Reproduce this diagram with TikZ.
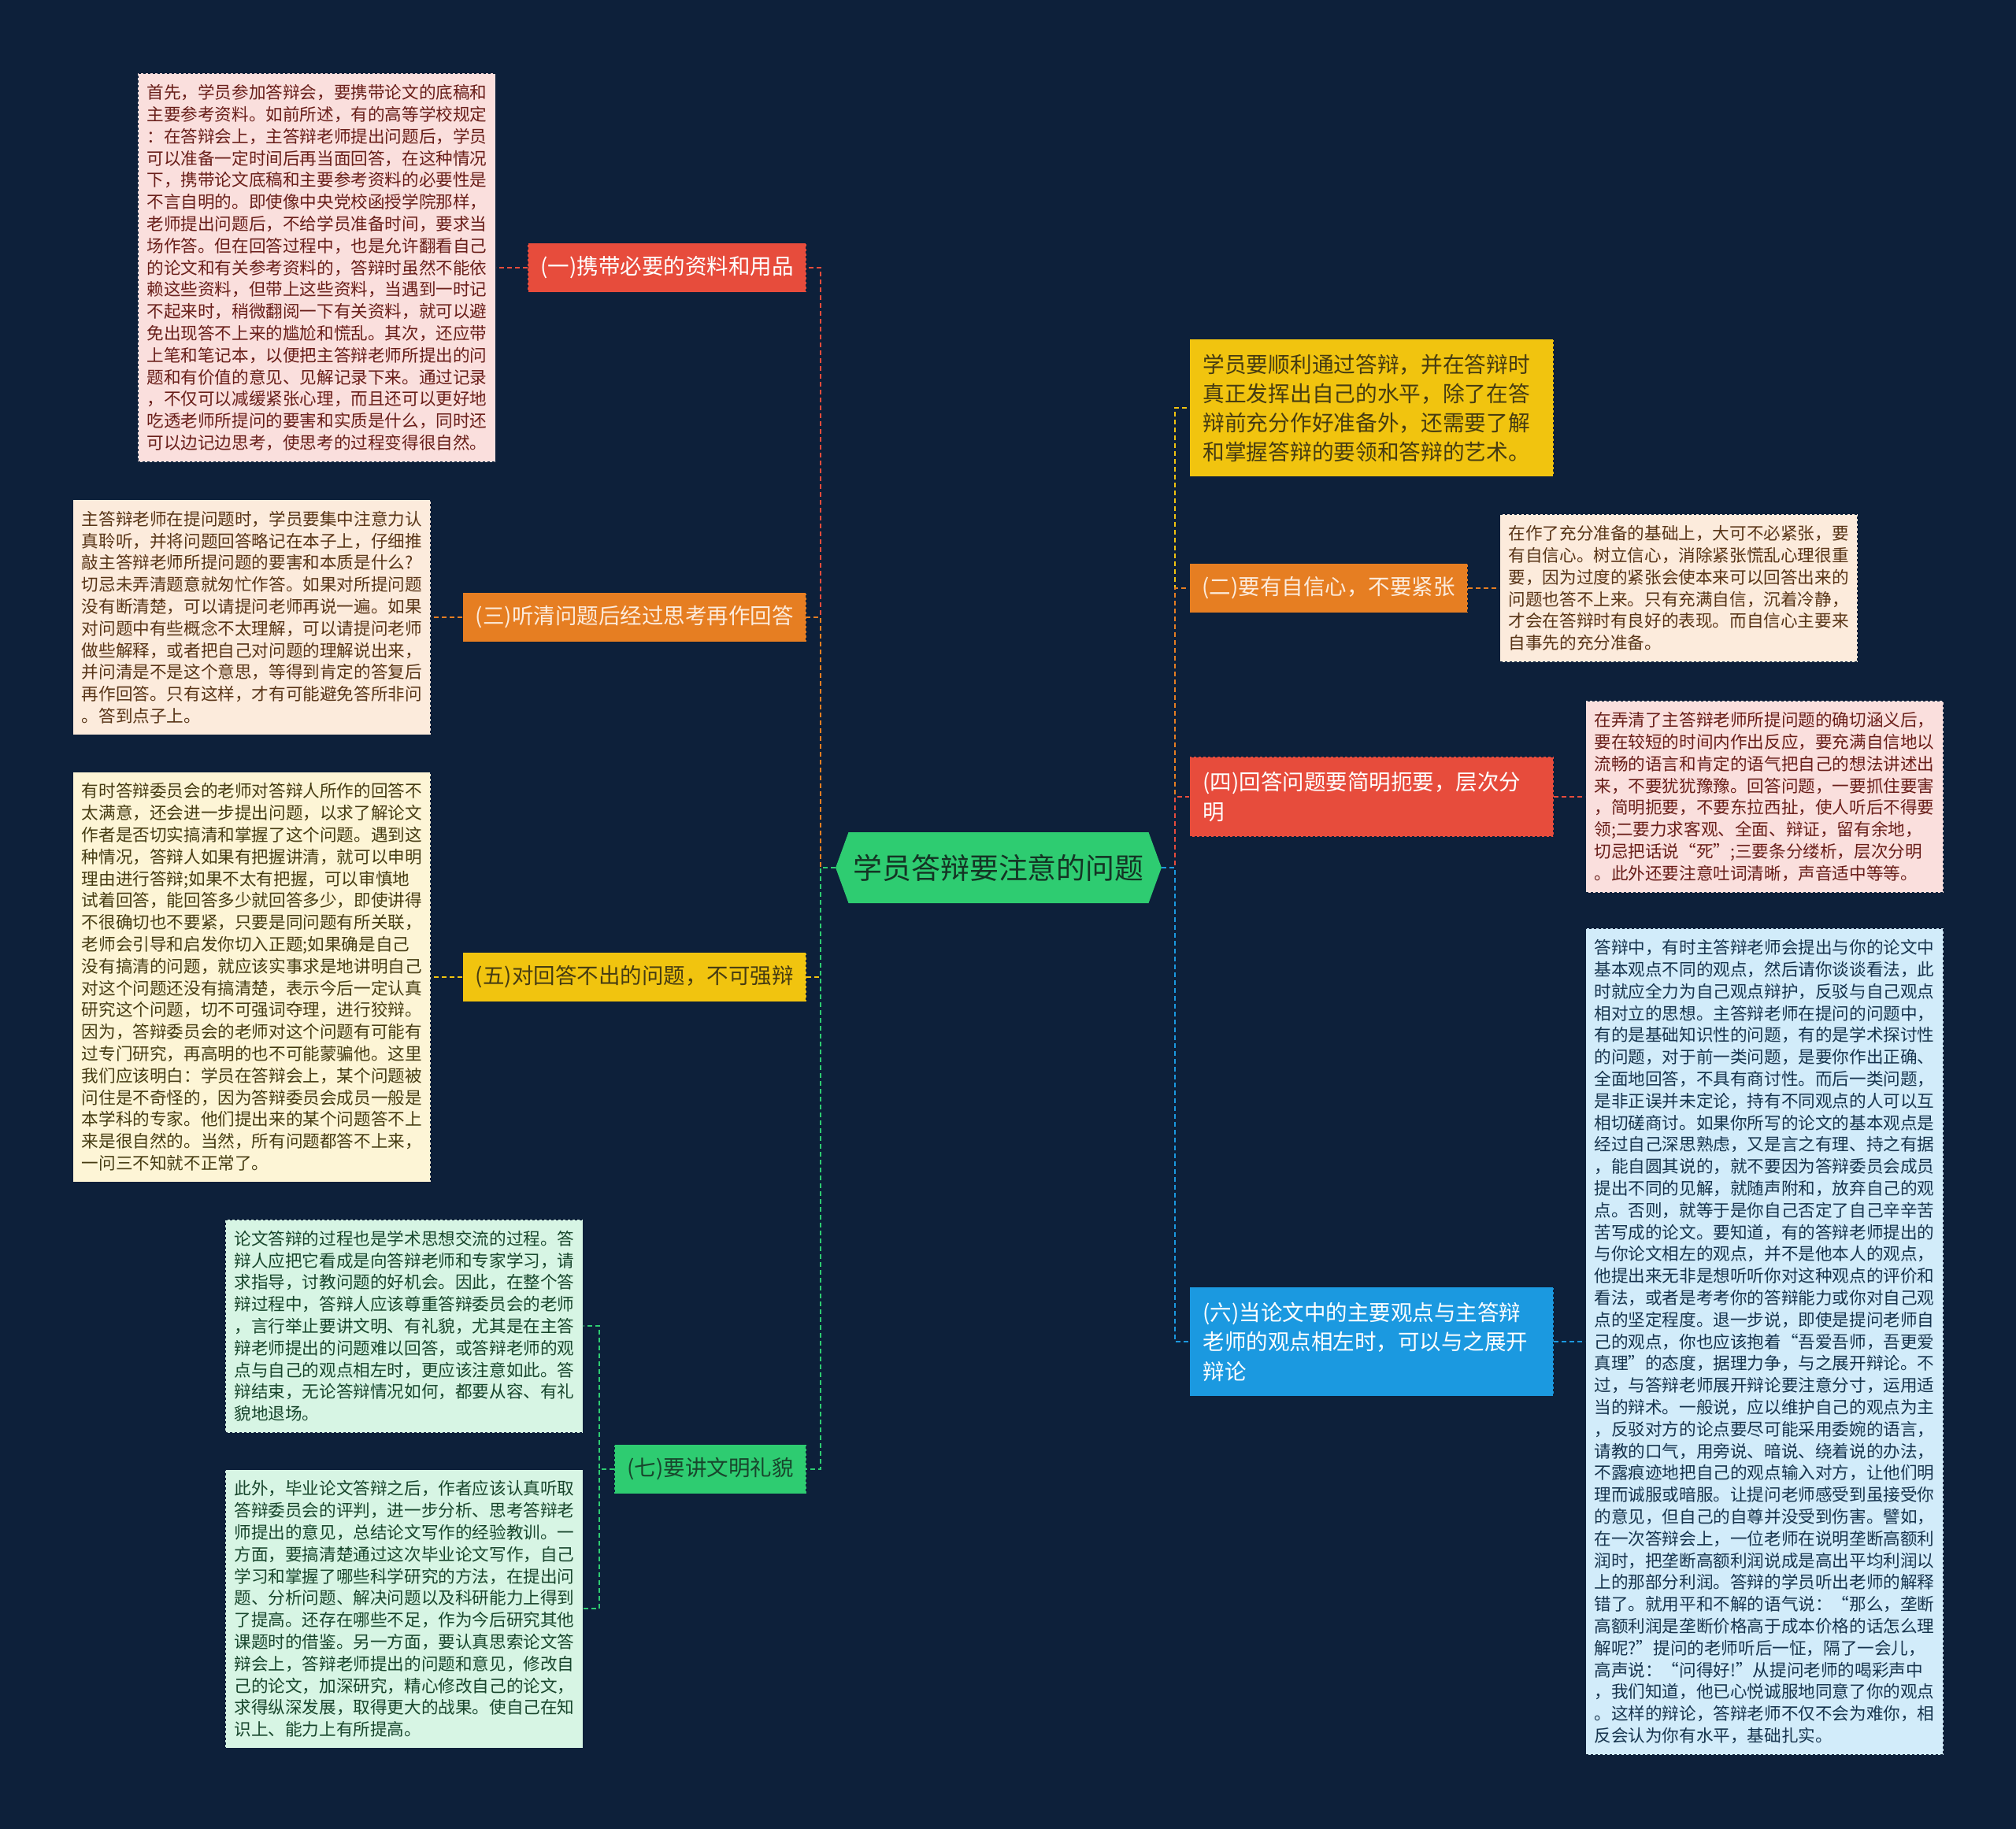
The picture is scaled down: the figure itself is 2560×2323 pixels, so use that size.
\documentclass[tikz,border=0pt]{standalone}
\usepackage{fontspec}
\usepackage{tikz}
\usetikzlibrary{positioning,shapes.symbols}
\newfontfamily\cjk{Noto Sans CJK SC}
\definecolor{nightbg}{RGB}{13,32,58}
\definecolor{rootgreen}{RGB}{46,204,113}
\definecolor{rootink}{RGB}{20,52,36}
\definecolor{deepred}{RGB}{231,76,60}
\definecolor{deeporange}{RGB}{230,126,34}
\definecolor{deepyellow}{RGB}{241,196,15}
\definecolor{deepgreen}{RGB}{46,204,113}
\definecolor{deepblue}{RGB}{27,153,224}
\definecolor{softred}{RGB}{250,223,221}
\definecolor{softorange}{RGB}{252,235,220}
\definecolor{softyellow}{RGB}{253,245,214}
\definecolor{softgreen}{RGB}{215,245,228}
\definecolor{softblue}{RGB}{210,236,250}
\definecolor{inkred}{RGB}{105,30,25}
\definecolor{inkbrown}{RGB}{88,52,22}
\definecolor{inkolive}{RGB}{70,60,18}
\definecolor{inkgreen}{RGB}{24,70,44}
\definecolor{inkblue}{RGB}{22,52,78}

\begin{document}
\begin{tikzpicture}[x=1pt,y=-1pt,node distance=40pt]
\tikzstyle{rootbox}=[signal,signal to=west and east,signal pointer angle=140,fill=rootgreen,text=rootink,minimum height=90pt,inner xsep=6pt,font=\cjk\fontsize{36.9}{40}\selectfont]
\tikzstyle{branch}=[draw=nightbg,dashed,line width=1pt,inner xsep=16pt,inner ysep=17pt,font=\cjk\fontsize{27.5}{37.5}\selectfont]
\tikzstyle{widebranch}=[branch,text width=428pt,align=left,inner xsep=17pt,inner ysep=19pt]
\tikzstyle{detail}=[draw=nightbg,dashed,line width=1pt,text width=432pt,align=left,inner xsep=11pt,inner ysep=14pt,font=\cjk\fontsize{21.6}{27.8}\selectfont]
\tikzstyle{link}=[line width=2pt,dash pattern=on 6pt off 4pt]

\useasboundingbox (0,0) rectangle (2560,2323);
\fill[nightbg] (0,0) rectangle (2560,2323);

\node[rootbox] (root) at (1268,1102) {学员答辩要注意的问题};
\coordinate (lj) at (1042,1102);
\coordinate (rj) at (1492,1102);

\node[branch,anchor=east,fill=deepred,text=white] (b1) at (1024,340) {(一)携带必要的资料和用品};
\node[branch,anchor=east,fill=deeporange,text=softorange] (b3) at (1024,784) {(三)听清问题后经过思考再作回答};
\node[branch,anchor=east,fill=deepyellow,text=inkolive] (b5) at (1024,1241) {(五)对回答不出的问题，不可强辩};
\node[branch,anchor=east,fill=deepgreen,text=inkgreen] (b7) at (1024,1866) {(七)要讲文明礼貌};

\node[widebranch,anchor=west,fill=deepyellow,text=inkolive,font=\cjk\fontsize{27.7}{37}\selectfont] (intro) at (1510,518) {学员要顺利通过答辩，并在答辩时\\真正发挥出自己的水平，除了在答\\辩前充分作好准备外，还需要了解\\和掌握答辩的要领和答辩的艺术。};
\node[branch,anchor=west,fill=deeporange,text=softorange] (b2) at (1510,747) {(二)要有自信心，不要紧张};
\node[widebranch,anchor=west,fill=deepred,text=white] (b4) at (1510,1012) {(四)回答问题要简明扼要，层次分\\明};
\node[widebranch,anchor=west,fill=deepblue,text=white] (b6) at (1510,1704) {(六)当论文中的主要观点与主答辩\\老师的观点相左时，可以与之展开\\辩论};

\node[detail,left=of b1,fill=softred,text=inkred] (d1) {首先，学员参加答辩会，要携带论文的底稿和\\主要参考资料。如前所述，有的高等学校规定\\：在答辩会上，主答辩老师提出问题后，学员\\可以准备一定时间后再当面回答，在这种情况\\下，携带论文底稿和主要参考资料的必要性是\\不言自明的。即使像中央党校函授学院那样，\\老师提出问题后，不给学员准备时间，要求当\\场作答。但在回答过程中，也是允许翻看自己\\的论文和有关参考资料的，答辩时虽然不能依\\赖这些资料，但带上这些资料，当遇到一时记\\不起来时，稍微翻阅一下有关资料，就可以避\\免出现答不上来的尴尬和慌乱。其次，还应带\\上笔和笔记本，以便把主答辩老师所提出的问\\题和有价值的意见、见解记录下来。通过记录\\，不仅可以减缓紧张心理，而且还可以更好地\\吃透老师所提问的要害和实质是什么，同时还\\可以边记边思考，使思考的过程变得很自然。};
\node[detail,left=of b3,fill=softorange,text=inkbrown] (d3) {主答辩老师在提问题时，学员要集中注意力认\\真聆听，并将问题回答略记在本子上，仔细推\\敲主答辩老师所提问题的要害和本质是什么?\\切忌未弄清题意就匆忙作答。如果对所提问题\\没有断清楚，可以请提问老师再说一遍。如果\\对问题中有些概念不太理解，可以请提问老师\\做些解释，或者把自己对问题的理解说出来，\\并问清是不是这个意思，等得到肯定的答复后\\再作回答。只有这样，才有可能避免答所非问\\。答到点子上。};
\node[detail,left=of b5,fill=softyellow,text=inkolive] (d5) {有时答辩委员会的老师对答辩人所作的回答不\\太满意，还会进一步提出问题，以求了解论文\\作者是否切实搞清和掌握了这个问题。遇到这\\种情况，答辩人如果有把握讲清，就可以申明\\理由进行答辩;如果不太有把握，可以审慎地\\试着回答，能回答多少就回答多少，即使讲得\\不很确切也不要紧，只要是同问题有所关联，\\老师会引导和启发你切入正题;如果确是自己\\没有搞清的问题，就应该实事求是地讲明自己\\对这个问题还没有搞清楚，表示今后一定认真\\研究这个问题，切不可强词夺理，进行狡辩。\\因为，答辩委员会的老师对这个问题有可能有\\过专门研究，再高明的也不可能蒙骗他。这里\\我们应该明白：学员在答辩会上，某个问题被\\问住是不奇怪的，因为答辩委员会成员一般是\\本学科的专家。他们提出来的某个问题答不上\\来是很自然的。当然，所有问题都答不上来，\\一问三不知就不正常了。};
\node[detail,anchor=south east,fill=softgreen,text=inkgreen] (d7a) at ([shift={(-39pt,46pt)}]b7.west) {论文答辩的过程也是学术思想交流的过程。答\\辩人应把它看成是向答辩老师和专家学习，请\\求指导，讨教问题的好机会。因此，在整个答\\辩过程中，答辩人应该尊重答辩委员会的老师\\，言行举止要讲文明、有礼貌，尤其是在主答\\辩老师提出的问题难以回答，或答辩老师的观\\点与自己的观点相左时，更应该注意如此。答\\辩结束，无论答辩情况如何，都要从容、有礼\\貌地退场。};
\node[detail,anchor=north east,fill=softgreen,text=inkgreen] (d7b) at ([xshift=-39pt]b7.west) {此外，毕业论文答辩之后，作者应该认真听取\\答辩委员会的评判，进一步分析、思考答辩老\\师提出的意见，总结论文写作的经验教训。一\\方面，要搞清楚通过这次毕业论文写作，自己\\学习和掌握了哪些科学研究的方法，在提出问\\题、分析问题、解决问题以及科研能力上得到\\了提高。还存在哪些不足，作为今后研究其他\\课题时的借鉴。另一方面，要认真思索论文答\\辩会上，答辩老师提出的问题和意见，修改自\\己的论文，加深研究，精心修改自己的论文，\\求得纵深发展，取得更大的战果。使自己在知\\识上、能力上有所提高。};

\node[detail,right=of b2,fill=softorange,text=inkbrown] (d2) {在作了充分准备的基础上，大可不必紧张，要\\有自信心。树立信心，消除紧张慌乱心理很重\\要，因为过度的紧张会使本来可以回答出来的\\问题也答不上来。只有充满自信，沉着冷静，\\才会在答辩时有良好的表现。而自信心主要来\\自事先的充分准备。};
\node[detail,right=of b4,fill=softred,text=inkred] (d4) {在弄清了主答辩老师所提问题的确切涵义后，\\要在较短的时间内作出反应，要充满自信地以\\流畅的语言和肯定的语气把自己的想法讲述出\\来，不要犹犹豫豫。回答问题，一要抓住要害\\，简明扼要，不要东拉西扯，使人听后不得要\\领;二要力求客观、全面、辩证，留有余地，\\切忌把话说“死”;三要条分缕析，层次分明\\。此外还要注意吐词清晰，声音适中等等。};
\node[detail,right=of b6,fill=softblue,text=inkblue] (d6) {答辩中，有时主答辩老师会提出与你的论文中\\基本观点不同的观点，然后请你谈谈看法，此\\时就应全力为自己观点辩护，反驳与自己观点\\相对立的思想。主答辩老师在提问的问题中，\\有的是基础知识性的问题，有的是学术探讨性\\的问题，对于前一类问题，是要你作出正确、\\全面地回答，不具有商讨性。而后一类问题，\\是非正误并未定论，持有不同观点的人可以互\\相切磋商讨。如果你所写的论文的基本观点是\\经过自己深思熟虑，又是言之有理、持之有据\\，能自圆其说的，就不要因为答辩委员会成员\\提出不同的见解，就随声附和，放弃自己的观\\点。否则，就等于是你自己否定了自己辛辛苦\\苦写成的论文。要知道，有的答辩老师提出的\\与你论文相左的观点，并不是他本人的观点，\\他提出来无非是想听听你对这种观点的评价和\\看法，或者是考考你的答辩能力或你对自己观\\点的坚定程度。退一步说，即使是提问老师自\\己的观点，你也应该抱着“吾爱吾师，吾更爱\\真理”的态度，据理力争，与之展开辩论。不\\过，与答辩老师展开辩论要注意分寸，运用适\\当的辩术。一般说，应以维护自己的观点为主\\，反驳对方的论点要尽可能采用委婉的语言，\\请教的口气，用旁说、暗说、绕着说的办法，\\不露痕迹地把自己的观点输入对方，让他们明\\理而诚服或暗服。让提问老师感受到虽接受你\\的意见，但自己的自尊并没受到伤害。譬如，\\在一次答辩会上，一位老师在说明垄断高额利\\润时，把垄断高额利润说成是高出平均利润以\\上的那部分利润。答辩的学员听出老师的解释\\错了。就用平和不解的语气说：“那么，垄断\\高额利润是垄断价格高于成本价格的话怎么理\\解呢?”提问的老师听后一怔，隔了一会儿，\\高声说：“问得好!”从提问老师的喝彩声中\\，我们知道，他已心悦诚服地同意了你的观点\\。这样的辩论，答辩老师不仅不会为难你，相\\反会认为你有水平，基础扎实。};

\draw[link,deepred] (root.west)--(lj)|-(b1.east);
\draw[link,deeporange] (root.west)--(lj)|-(b3.east);
\draw[link,deepyellow] (root.west)--(lj)|-(b5.east);
\draw[link,deepgreen] (root.west)--(lj)|-(b7.east);
\draw[link,deepyellow] (root.east)--(rj)|-(intro.west);
\draw[link,deeporange] (root.east)--(rj)|-(b2.west);
\draw[link,deepred] (root.east)--(rj)|-(b4.west);
\draw[link,deepblue] (root.east)--(rj)|-(b6.west);
\draw[link,deepred] (b1)--(d1); \draw[link,deeporange] (b3)--(d3); \draw[link,deepyellow] (b5)--(d5);
\draw[link,deepgreen] (b7.west)--++(-19pt,0)|-(d7a.east); \draw[link,deepgreen] (b7.west)--++(-19pt,0)|-(d7b.east);
\draw[link,deeporange] (b2)--(d2); \draw[link,deepred] (b4)--(d4); \draw[link,deepblue] (b6)--(d6);
\end{tikzpicture}
\end{document}
